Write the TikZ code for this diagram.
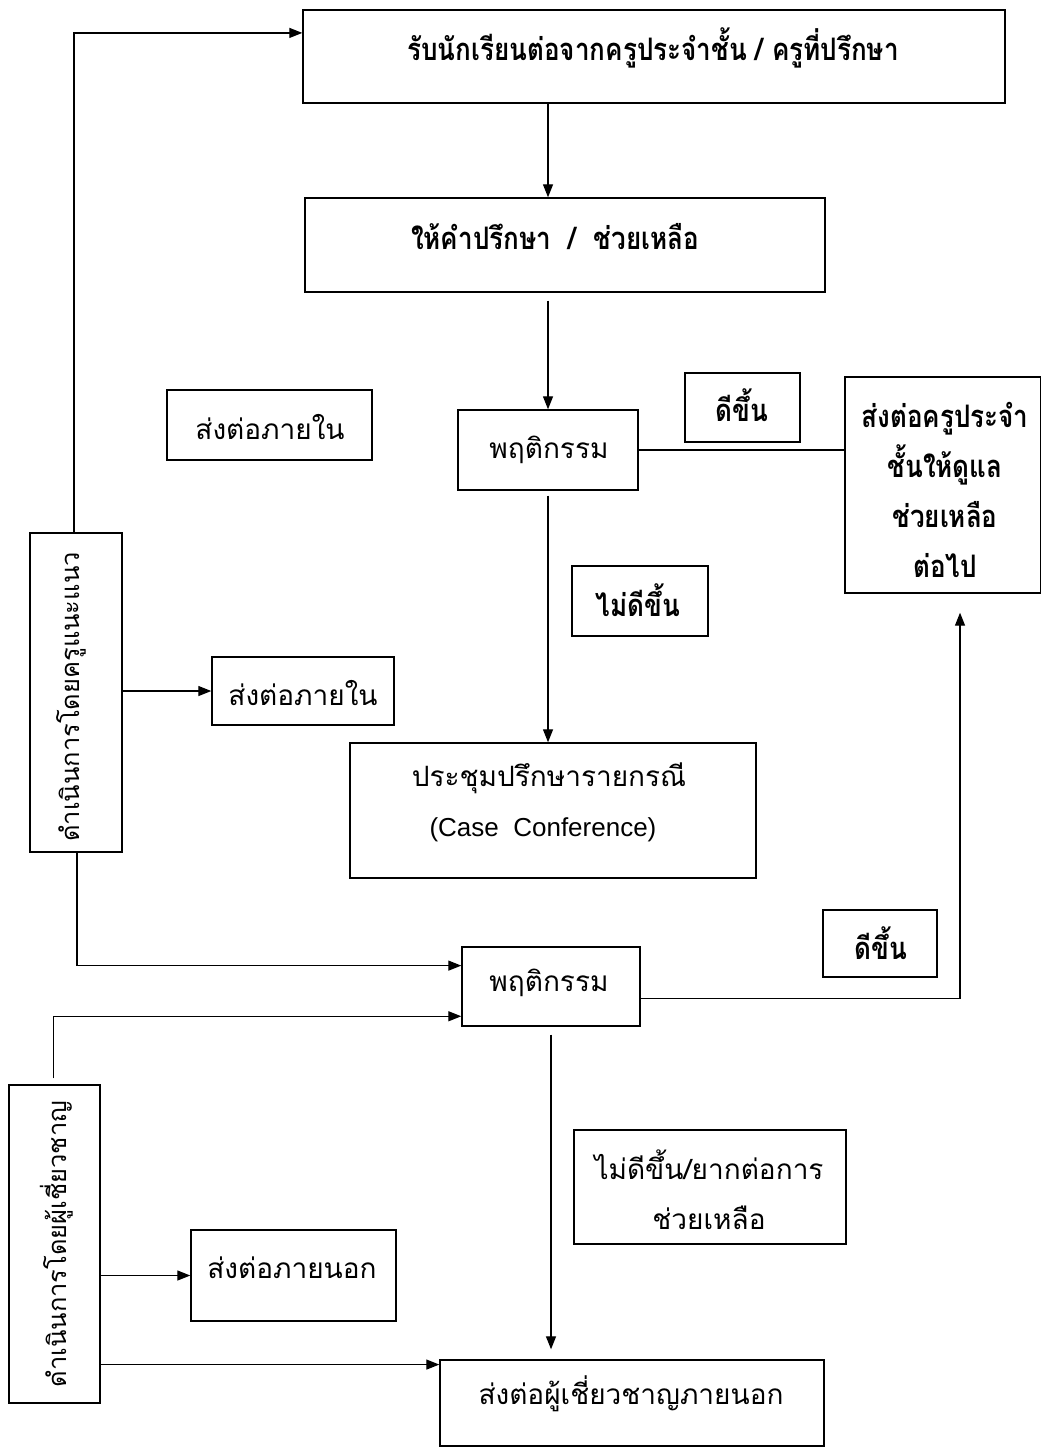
\documentclass[tikz,border=0pt]{standalone}
\usepackage{fontspec}
\setmainfont{Liberation Sans}
\newfontfamily\thr[Script=Thai]{Loma}
\newfontfamily\thb[Script=Thai,FakeStretch=0.84]{Loma}
\usetikzlibrary{arrows.meta,calc}
\tikzset{
  box/.style={draw, line width=1.4pt, inner sep=0pt},
  reg/.style={inner sep=0pt, align=center, font=\thr\fontsize{28}{50}\selectfont},
  rot/.style={inner sep=0pt, rotate=90, font=\thr\fontsize{25.5}{30}\selectfont},
  bld/.style={inner sep=0pt, align=center, font=\thb\bfseries\fontsize{31}{50}\selectfont},
  eng/.style={inner sep=0pt, font=\fontsize{26}{30}\selectfont},
  ln/.style={line width=1.3pt},
  arr/.style={line width=1.3pt, -{Triangle[length=13pt,width=10pt]}},
}
\begin{document}
\begin{tikzpicture}[x=1pt,y=-1pt]
\useasboundingbox (0,0) rectangle (1041,1449);
% boxes
\node[box, minimum width=702, minimum height=93] (b1) at (654,56.5) {};
\node[bld] (b1t) at (653,48) {รับนักเรียนต่อจากครูประจำชั้น / ครูที่ปรึกษา};
\node[box, minimum width=520, minimum height=94] (b2) at (565,245) {};
\node[bld] (b2t) at (555,237) {ให้คำปรึกษา \ /\ \ ช่วยเหลือ};
\node[box, minimum width=180, minimum height=80] (b3) at (548,450) {};
\node[reg] (b3t) at (549,450) {พฤติกรรม};
\node[box, minimum width=115, minimum height=69] (g1) at (742.5,407.5) {};
\node[bld] (g1t) at (742,405) {ดีขึ้น};
\node[box, minimum width=196, minimum height=216] (rb) at (943,485) {};
\node[bld] (rbt) at (945,490) {ส่งต่อครูประจำ\\ชั้นให้ดูแล\\ช่วยเหลือ\\ต่อไป};
\node[box, minimum width=136, minimum height=70] (n1) at (640,601) {};
\node[bld] (n1t) at (638,600) {ไม่ดีขึ้น};
\node[box, minimum width=205, minimum height=70] (i1) at (269.5,425) {};
\node[reg] (i1t) at (270,427) {ส่งต่อภายใน};
\node[box, minimum width=92, minimum height=319] (l1) at (76,692.5) {};
\node[rot] (l1t) at (71,697) {ดำเนินการโดยครูแนะแนว};
\node[box, minimum width=182, minimum height=68] (i2) at (303,691) {};
\node[reg] (i2t) at (303,693) {ส่งต่อภายใน};
\node[box, minimum width=406, minimum height=135] (cc) at (553,810.5) {};
\node[reg] (cct) at (549,778) {ประชุมปรึกษารายกรณี};
\node[eng] (cce) at (543,830) {(Case\ \ Conference)};
\node[box, minimum width=178, minimum height=79] (b4) at (551,986.5) {};
\node[reg] (b4t) at (549,983) {พฤติกรรม};
\node[box, minimum width=114, minimum height=67] (g2) at (880,943.5) {};
\node[bld] (g2t) at (881,943) {ดีขึ้น};
\node[box, minimum width=272, minimum height=114] (n2) at (710,1187) {};
\node[reg] (n2t) at (709,1190) {ไม่ดีขึ้น/ยากต่อการ\\ช่วยเหลือ};
\node[box, minimum width=91, minimum height=318] (l2) at (54.5,1244) {};
\node[rot] (l2t) at (57,1244) {ดำเนินการโดยผู้เชี่ยวชาญ};
\node[box, minimum width=205, minimum height=91] (ex) at (293.5,1275.5) {};
\node[reg] (ext) at (292,1268) {ส่งต่อภายนอก};
\node[box, minimum width=384, minimum height=86] (bx) at (632,1403) {};
\node[reg] (bxt) at (631,1394) {ส่งต่อผู้เชี่ยวชาญภายนอก};
% connectors
\coordinate (p1) at ($(b1.north west)!0.25!(b1.south west)$);
\draw[arr] ([xshift=-2pt]l1.north) |- (p1);
\draw[arr] (b3.north |- b1.south) -- (b3.north |- b2.north);
\draw[arr] ([yshift=-8pt]b2.south -| b3.north) -- (b3.north);
\draw[ln] (b3.east) -- (rb.west |- b3.east);
\draw[arr] ([yshift=-5pt]b3.south) -- (b3.south |- cc.north);
\draw[arr] (l1.east |- i2.west) -- (i2.west);
\coordinate (p2) at ($(b4.north west)!0.24!(b4.south west)$);
\draw[arr] ([xshift=1pt]l1.south) |- (p2);
\coordinate (p3) at ($(b4.north west)!0.87!(b4.south west)$);
\draw[arr] ([xshift=-1pt,yshift=6pt]l2.north) |- (p3);
\coordinate (p4) at ($(b4.north east)!0.65!(b4.south east)$);
\coordinate (p5) at ($(rb.south)+(17,0)$);
\draw[arr, shorten >=19pt] (p4) -| (p5);
\draw[arr, shorten >=10pt] ([yshift=-8pt]b4.south) -- (b4.south |- bx.north);
\draw[arr] (l2.east |- ex.west) -- (ex.west);
\coordinate (p6) at ($(bx.north west)!0.06!(bx.south west)$);
\draw[arr] (l2.east |- p6) -- (p6);
\end{tikzpicture}
\end{document}
